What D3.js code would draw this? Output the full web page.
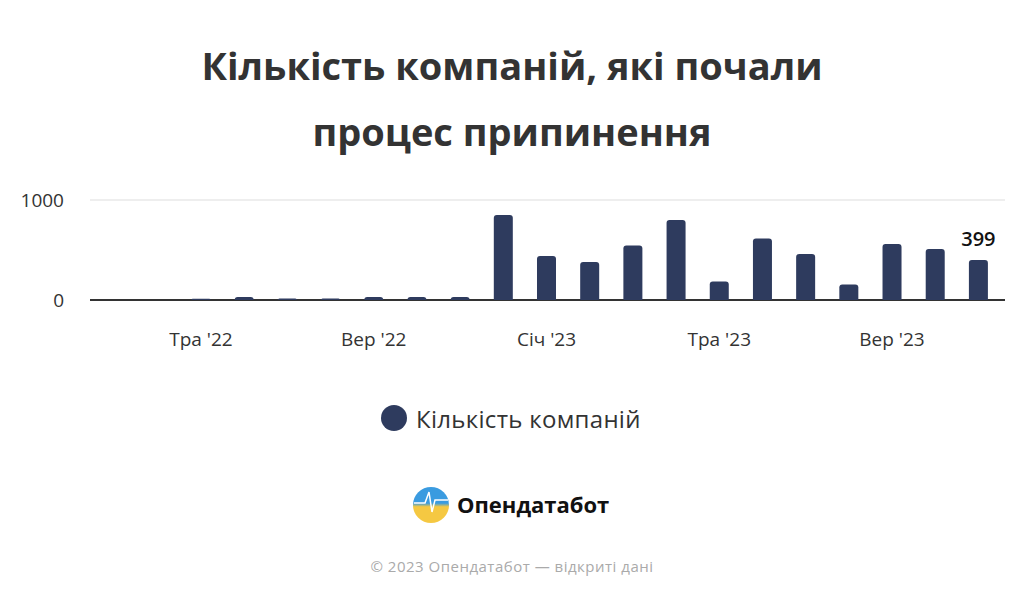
<!DOCTYPE html>
<html><head><meta charset="utf-8">
<script src="https://cdn.jsdelivr.net/npm/d3@7"></script>
<style>body{margin:0;background:#fff;font-family:"Open Sans","Noto Sans",sans-serif}</style>
</head><body><svg id="chart" width="1024" height="597"></svg>
<script>
const months = ['2022-03','2022-04','2022-05','2022-06','2022-07','2022-08','2022-09','2022-10','2022-11','2022-12',
  '2023-01','2023-02','2023-03','2023-04','2023-05','2023-06','2023-07','2023-08','2023-09','2023-10','2023-11'];
const companies = [0,0,12,30,15,15,30,30,30,850,440,380,545,800,185,615,460,155,560,510,399];
const tickMonths = ['2022-05','2022-09','2023-01','2023-05','2023-09'];
const tickLabels = ["Тра '22","Вер '22","Січ '23","Тра '23","Вер '23"];
const yTicks = [0,1000];

const svg = d3.select('#chart');
const x = d3.scaleBand().domain(months).range([93,1000]).paddingInner(0.56).paddingOuter(0.28);
const y = d3.scaleLinear().domain([0,1000]).range([300,200]);

svg.append('text').attr('x',512).attr('y',80).attr('text-anchor','middle')
  .attr('font-size',38).attr('font-weight',700).attr('fill','#333').text('Кількість компаній, які почали');
svg.append('text').attr('x',512).attr('y',146).attr('text-anchor','middle')
  .attr('font-size',38).attr('font-weight',700).attr('fill','#333').text('процес припинення');

svg.selectAll('.grid').data(yTicks).join('line')
  .attr('x1',90).attr('x2',1005).attr('y1',d=>y(d)).attr('y2',d=>y(d))
  .attr('stroke',d=>d===0?'#333':'#ddd').attr('stroke-width',d=>d===0?2:1);
svg.selectAll('.ylab').data(yTicks).join('text')
  .attr('x',64).attr('y',d=>y(d)+7).attr('text-anchor','end').attr('font-size',19).attr('fill','#333').text(d=>d);

svg.selectAll('.bar').data(months).join('path')
  .attr('fill','#2e3b5e')
  .attr('d',(m,i)=>{
    const v = companies[i]; if(!v) return '';
    const x0=x(m), w=x.bandwidth(), top=y(v), b=y(0), r=Math.min(3,(b-top));
    return `M${x0},${b}V${top+r}Q${x0},${top} ${x0+r},${top}H${x0+w-r}Q${x0+w},${top} ${x0+w},${top+r}V${b}Z`;
  });

const last = months.length-1;
svg.append('text').attr('x',x(months[last])+x.bandwidth()/2).attr('y',y(companies[last])-14)
  .attr('text-anchor','middle').attr('font-size',20).attr('font-weight',600).attr('fill','#111').text(companies[last]);

svg.selectAll('.xlab').data(tickMonths).join('text')
  .attr('x',(m)=>x(m)+x.bandwidth()/2).attr('y',346).attr('text-anchor','middle')
  .attr('font-size',19).attr('fill','#333').text((m,i)=>tickLabels[i]);

svg.append('circle').attr('cx',394).attr('cy',418).attr('r',13).attr('fill','#2e3b5e');
svg.append('text').attr('x',416).attr('y',428).attr('font-size',24).attr('letter-spacing',0.3).attr('fill','#333').text('Кількість компаній');

const g = svg.append('defs').append('linearGradient').attr('id','lg').attr('x1',0).attr('y1',0).attr('x2',0).attr('y2',1);
g.append('stop').attr('offset','0.45').attr('stop-color','#3a9be0');
g.append('stop').attr('offset','0.55').attr('stop-color','#f5c842');
svg.append('circle').attr('cx',431).attr('cy',505).attr('r',18).attr('fill','url(#lg)');
svg.append('path').attr('d','M414,503H425L429,492L432,512L435,500H448').attr('fill','none').attr('stroke','#fff').attr('stroke-width',1.5);
svg.append('text').attr('x',457).attr('y',513).attr('font-size',22).attr('font-weight',700).attr('fill','#111').text('Опендатабот');

svg.append('text').attr('x',512).attr('y',572).attr('text-anchor','middle').attr('font-size',15).attr('letter-spacing',0.5).attr('fill','#aaa').text('© 2023 Опендатабот — відкриті дані');
</script></body></html>
